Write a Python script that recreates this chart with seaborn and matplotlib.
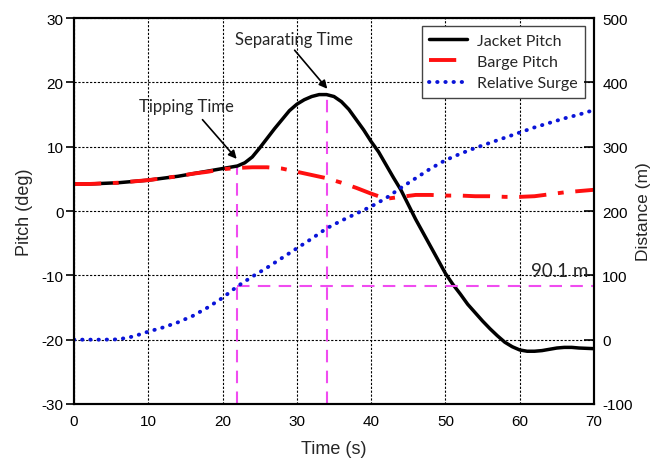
import numpy as np
import pandas as pd
import matplotlib
matplotlib.use("Agg")
import matplotlib.pyplot as plt
import seaborn as sns

# Time axis (s) shared by barge pitch and relative surge
time_s = [0, 2, 4, 6, 8, 10, 12, 14, 16, 18, 20, 22, 24, 26, 28, 30, 32, 34,
          36, 38, 40, 42, 44, 46, 48, 50, 52, 54, 56, 58, 60, 62, 64, 66, 68, 70]

# Jacket pitch is sampled more finely through the tipping / separating phase
jacket_time = [0, 2, 4, 6, 8, 10, 12, 14, 16, 18, 20, 21, 22, 23, 24, 25, 26,
               27, 28, 29, 30, 31, 32, 33, 34, 35, 36, 37, 38, 39, 40, 41, 42,
               43, 44, 45, 46, 47, 48, 49, 50, 51, 52, 53, 54, 55, 56, 57, 58,
               59, 60, 61, 62, 63, 64, 65, 66, 67, 68, 69, 70]
jacket_pitch = [4.2, 4.2, 4.3, 4.4, 4.6, 4.8, 5.1, 5.4, 5.8, 6.2, 6.6, 6.8,
                7.0, 7.5, 8.4, 9.8, 11.3, 12.8, 14.2, 15.6, 16.6, 17.3, 17.8,
                18.1, 18.1, 17.8, 17.0, 15.8, 14.2, 12.6, 10.8, 9.2, 7.2, 5.2,
                3.3, 1.0, -1.3, -3.4, -5.5, -7.6, -9.7, -11.4, -12.9, -14.5,
                -15.8, -17.1, -18.3, -19.4, -20.4, -21.1, -21.6, -21.8, -21.8,
                -21.7, -21.5, -21.3, -21.2, -21.2, -21.3, -21.35, -21.4]

# Barge pitch (deg)
barge_pitch = [4.2, 4.2, 4.3, 4.4, 4.6, 4.8, 5.1, 5.4, 5.8, 6.1, 6.5, 6.7, 6.8,
               6.8, 6.6, 6.1, 5.6, 5.1, 4.4, 3.6, 2.7, 1.9, 2.2, 2.5, 2.5,
               2.4, 2.4, 2.3, 2.3, 2.2, 2.2, 2.3, 2.6, 2.9, 3.1, 3.3]

# Relative surge (m)
relative_surge = [0, 0, 0, 0.5, 5, 12.5, 19, 27, 37, 50, 65, 83, 98, 112, 127,
                  142, 157, 173, 185, 196, 207, 220, 236, 251, 266, 279, 289,
                  298, 306, 314, 322, 330, 337, 344, 350, 357]

tipping_time = 22
separating_time = 34
surge_gap = 90.1

sns.set_theme(style="white")
plt.rcParams["font.family"] = ["Liberation Sans", "DejaVu Sans"]
plt.rcParams["axes.unicode_minus"] = False

jacket_df = pd.DataFrame({"time": jacket_time, "pitch": jacket_pitch})
df = pd.DataFrame({"time": time_s, "barge": barge_pitch,
                   "surge": relative_surge})

fig = plt.figure(figsize=(6.57, 4.60), dpi=100)
ax = fig.add_axes([0.1126, 0.1196, 0.7915, 0.839])
ax2 = ax.twinx()

sns.lineplot(data=jacket_df, x="time", y="pitch", ax=ax, color="black",
             lw=2.5, legend=False)
sns.lineplot(data=df, x="time", y="barge", ax=ax, color="#ff1010", lw=2.8,
             legend=False)
ax.lines[-1].set_dashes([7, 3, 1.5, 3])
sns.lineplot(data=df, x="time", y="surge", ax=ax2, color="#0a14d8", lw=2.8,
             legend=False)
ax2.lines[-1].set_dashes([0.1, 2.0])
ax2.lines[-1].set_dash_capstyle("round")

ax.set_xlim(0, 70)
ax.set_ylim(-30, 30)
ax2.set_ylim(-100, 500)
ax.set_xticks(np.arange(0, 71, 10))
ax.set_yticks(np.arange(-30, 31, 10))
ax2.set_yticks(np.arange(-100, 501, 100))

ax.grid(True, color="black", linestyle=(0, (2, 1.5)), lw=0.8)
ax.set_axisbelow(True)

# Marker lines at tipping and separating instants
mag = "#f04cf0"
jack_tip = jacket_pitch[jacket_time.index(tipping_time)]
jack_sep = jacket_pitch[jacket_time.index(separating_time)]
surge_sep = relative_surge[time_s.index(separating_time)]
surge_line = surge_sep - surge_gap
ax.plot([tipping_time, tipping_time], [-30, jack_tip], color=mag, lw=1.5,
        dashes=(6, 4), zorder=1.5)
ax.plot([separating_time, separating_time], [-30, jack_sep], color=mag, lw=1.5,
        dashes=(6, 4), zorder=1.5)
ax2.plot([tipping_time, 70], [surge_line, surge_line], color=mag, lw=1.5,
         dashes=(6, 4), zorder=1.5)

ann_font = ["Lato", "DejaVu Sans"]
arrow = dict(arrowstyle="-|>", color="black", lw=1.2, mutation_scale=12,
             shrinkA=0, shrinkB=0)
ax.annotate("", xy=(21.9, 8.1), xytext=(17.3, 14.2), arrowprops=arrow)
ax.text(15.2, 16.4, "Tipping Time", ha="center", va="center", fontsize=12,
        family=ann_font)
ax.annotate("", xy=(34.1, 19.0), xytext=(29.7, 25.0), arrowprops=arrow)
ax.text(29.6, 26.7, "Separating Time", ha="center", va="center", fontsize=12,
        family=ann_font)
ax2.text(69.3, surge_line + 12, f"{surge_gap} m", ha="right", va="bottom",
         fontsize=13.5, family=ann_font)

ax.set_xlabel("Time (s)", fontsize=13, labelpad=9)
ax.set_ylabel("Pitch (deg)", fontsize=13, labelpad=6)
ax2.set_ylabel("Distance (m)", fontsize=12.5, labelpad=2)

for a in (ax, ax2):
    for s in a.spines.values():
        s.set_color("black")
        s.set_linewidth(1.5)
ax.tick_params(axis="y", labelsize=11, colors="black", length=6, width=1.2,
               direction="out", pad=1.5)
ax.tick_params(axis="x", labelsize=11, colors="black", length=7, width=1.2,
               direction="in", pad=7)
ax2.tick_params(axis="y", labelsize=11, colors="black", length=7, width=1.2,
                direction="in", pad=6)

handles = ax.lines[:2] + ax2.lines[:1]
leg = ax.legend(handles, ["Jacket Pitch", "Barge Pitch", "Relative Surge"],
                loc="upper right", bbox_to_anchor=(0.988, 0.987),
                prop={"family": ann_font, "size": 11.5}, frameon=True,
                fancybox=False, edgecolor="#444444", framealpha=1,
                handlelength=2.4, borderpad=0.45, labelspacing=0.45,
                handletextpad=0.6, borderaxespad=0.2)
leg.get_frame().set_linewidth(1.0)
leg.set_zorder(10)

fig.savefig("out.png", dpi=100)
